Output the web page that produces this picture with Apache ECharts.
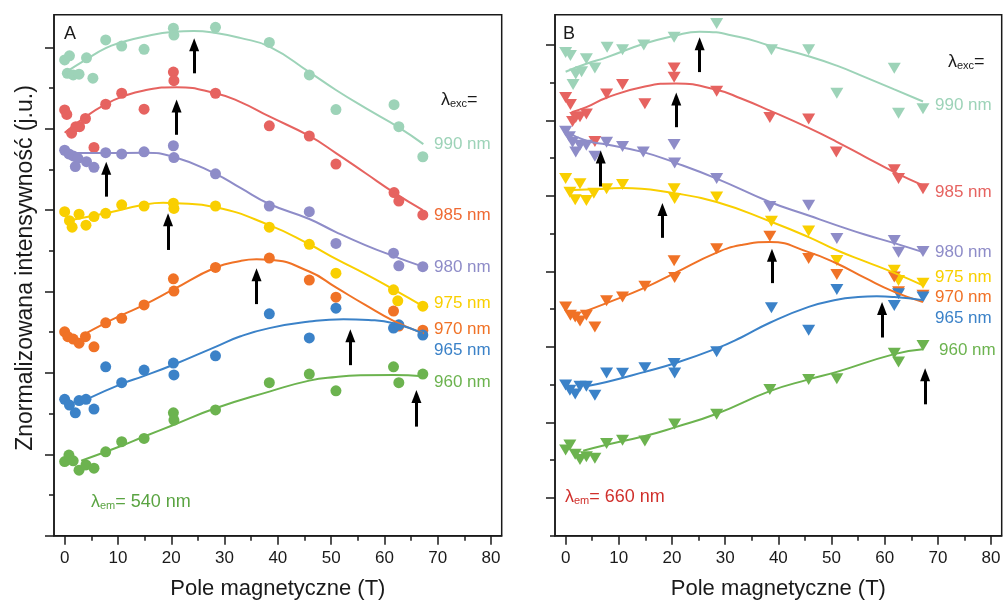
<!DOCTYPE html>
<html>
<head>
<meta charset="utf-8">
<script src="https://cdn.jsdelivr.net/npm/echarts@6/dist/echarts.min.js"></script>
<style>
html, body { margin: 0; padding: 0; background: #fff; }
#chart { width: 1003px; height: 604px; }
</style>
</head>
<body>
<div id="chart"></div>
<script>
// excitation wavelengths (top to bottom) and their colours
const waves = ['990', '985', '980', '975', '970', '965', '960'];
const colors = ['#9dd3b8', '#e66360', '#8e8cc8', '#f9cf00', '#f07226', '#3b82c8', '#6cb34f'];

// axis ticks
const xMajor = [0, 10, 20, 30, 40, 50, 60, 70, 80];
const xMinor = [5, 15, 25, 35, 45, 55, 65, 75];
const yMajorA = [0, 2, 4, 6, 8, 10, 12];
const yMinorA = [1, 3, 5, 7, 9, 11];
const yMajorB = [1, 3, 5, 7, 9, 11, 13];
const yMinorB = [0, 2, 4, 6, 8, 10, 12];

// panel A (λem = 540 nm): measured points [B (T), shifted intensity]
const ptsA990 = [[0,11.69],[0.9,11.79],[4.1,11.74],[0.5,11.36],[1.6,11.32],[2.7,11.34],[5.3,11.24],[7.7,12.18],[10.7,12.03],[14.9,11.95],[20.4,12.47],[20.5,12.30],[28.3,12.49],[38.4,12.12],[45.9,11.32],[50.9,10.47],[61.8,10.59],[62.7,10.05],[67.2,9.31]];
const ptsA985 = [[0,10.46],[0.4,10.35],[1.3,9.89],[2.1,10.05],[2.8,10.05],[3.9,10.25],[5.5,9.54],[7.7,10.6],[10.7,10.87],[14.9,10.48],[20.4,11.39],[20.5,11.18],[28.3,10.87],[38.4,10.07],[45.9,9.82],[50.9,9.13],[61.8,8.43],[62.7,8.22],[67.2,7.88]];
const ptsA980 = [[0,9.47],[0.8,9.38],[1.6,9.33],[2.5,9.27],[2.0,9.07],[4.1,9.19],[5.5,9.05],[7.7,9.41],[10.7,9.38],[14.9,9.43],[20.4,9.58],[20.5,9.29],[28.3,8.89],[38.4,8.10],[45.9,7.96],[50.9,7.18],[61.7,6.94],[62.7,6.63],[67.2,6.61]];
const ptsA975 = [[0,7.96],[0.9,7.74],[1.4,7.58],[2.7,7.90],[4.0,7.63],[5.5,7.84],[7.7,7.92],[10.7,8.13],[14.9,8.10],[20.4,8.17],[20.5,8.04],[28.3,8.10],[38.4,7.58],[45.9,7.16],[50.9,6.45],[61.7,6.04],[62.5,5.77],[67.2,5.64]];
const ptsA970 = [[0,5.01],[0.6,4.89],[1.6,4.83],[2.7,4.73],[3.9,4.89],[5.5,4.64],[7.7,5.23],[10.7,5.34],[14.9,5.67],[20.4,6.31],[20.5,6.01],[28.3,6.59],[38.4,6.82],[45.9,6.28],[50.9,5.86],[61.7,5.52],[62.7,5.15],[67.2,5.05]];
const ptsA965 = [[0,3.35],[0.9,3.21],[2.0,3.02],[2.7,3.32],[4.0,3.35],[5.5,3.11],[7.7,4.15],[10.7,3.76],[14.9,4.07],[20.4,4.24],[20.5,3.95],[28.3,4.42],[38.4,5.45],[45.9,4.86],[50.9,5.59],[61.7,5.10],[62.7,5.18],[67.2,4.93]];
const ptsA960 = [[0,1.82],[0.8,1.98],[1.6,1.84],[2.7,1.61],[4.0,1.74],[5.5,1.66],[7.7,2.06],[10.7,2.31],[14.9,2.39],[20.4,3.02],[20.5,2.84],[28.3,3.09],[38.4,3.76],[45.9,3.97],[50.9,3.56],[61.7,4.15],[62.7,3.76],[67.2,3.97]];

// panel A fitted curves
const fitA990 = [[0,11.37],[3.9,11.69],[7.7,11.98],[10.7,12.12],[14.8,12.26],[20.5,12.38],[24.2,12.40],[28.4,12.35],[32.9,12.23],[38.5,12.01],[45.9,11.39],[50.9,10.95],[56.4,10.51],[62.6,10.04],[67.3,9.62]];
const fitA985 = [[0,9.90],[3.9,10.29],[7.7,10.60],[10.7,10.78],[14.9,10.94],[21,11.02],[28.3,10.87],[32.9,10.66],[38.4,10.30],[45.9,9.82],[50.9,9.40],[56.4,8.91],[61.8,8.43],[67.2,8.00]];
const fitA980 = [[0,9.40],[7.7,9.40],[14.9,9.41],[20.4,9.31],[28.3,8.89],[32.9,8.55],[38.4,8.15],[45.9,7.78],[50.9,7.46],[56.4,7.14],[61.7,6.87],[67.2,6.61]];
const fitA975 = [[0.5,7.74],[7.7,7.92],[14.8,8.13],[18.5,8.18],[21,8.17],[28.3,8.07],[38.4,7.63],[45.9,7.16],[50.9,6.80],[56.4,6.43],[61.7,6.05],[67.2,5.64]];
const fitA970 = [[3.4,4.93],[7.7,5.23],[10.7,5.42],[14.9,5.67],[20.4,6.05],[28.3,6.59],[33,6.75],[36,6.79],[38.4,6.78],[45.9,6.49],[50.9,6.10],[56.4,5.67],[61.7,5.28],[67.4,4.97]];
const fitA965 = [[4.1,3.35],[10.7,3.73],[14.8,3.92],[20.4,4.20],[28.3,4.64],[33,4.90],[38.4,5.10],[45.9,5.26],[52.3,5.32],[57,5.30],[61.7,5.22],[67.2,4.97]];
const fitA960 = [[3.1,1.84],[10.7,2.21],[14.8,2.43],[20.4,2.72],[28.3,3.13],[38.4,3.54],[45.9,3.81],[50.9,3.90],[55.5,3.94],[61.7,3.95],[67.2,3.92]];

// panel B (λem = 660 nm): measured points
const ptsB990 = [[0,12.80],[0.9,12.72],[1.4,11.95],[1.9,12.23],[3.0,12.29],[3.9,12.63],[5.5,12.39],[7.8,12.94],[10.7,12.87],[14.7,13.0],[20.4,13.2],[28.4,13.57],[38.7,12.87],[45.7,12.87],[51.0,11.72],[61.8,12.38],[62.6,11.19],[67.2,11.31]];
const ptsB985 = [[0,11.61],[0.9,11.42],[1.3,10.97],[1.9,11.08],[2.7,11.10],[3.9,11.17],[5.5,10.44],[7.7,11.70],[10.7,11.95],[14.9,11.44],[20.4,12.39],[20.4,12.14],[28.4,11.77],[38.4,11.08],[45.7,11.04],[50.9,10.16],[61.8,9.69],[62.6,9.46],[67.2,9.19]];
const ptsB980 = [[0,10.71],[0.7,10.57],[1.3,10.42],[1.9,10.16],[2.7,10.34],[3.9,10.34],[5.5,10.05],[7.7,10.42],[10.7,10.31],[14.6,10.16],[20.4,10.36],[20.5,9.87],[28.4,9.46],[38.4,8.72],[45.7,8.75],[51,7.87],[61.8,7.82],[62.6,7.51],[67.2,7.53]];
const ptsB975 = [[0,9.46],[0.8,9.10],[1.8,8.90],[2.7,9.32],[3.9,8.88],[5.3,9.07],[7.7,9.19],[10.7,9.30],[20.4,9.19],[20.5,8.93],[28.4,8.97],[38.7,8.33],[45.7,8.07],[51,7.29],[61.8,7.03],[62.6,6.76],[67.2,6.69]];
const ptsB970 = [[0,6.06],[0.9,5.84],[1.8,5.79],[2.7,5.69],[3.9,5.84],[5.5,5.53],[7.7,6.22],[10.7,6.32],[14.9,6.61],[20.4,7.28],[20.5,6.84],[28.4,7.60],[38.4,7.93],[45.7,7.34],[51,6.92],[61.8,6.85],[62.6,6.46],[67.2,6.37]];
const ptsB965 = [[0,3.99],[0.8,3.85],[1.8,3.75],[2.7,3.96],[3.9,3.96],[5.5,3.72],[7.7,4.31],[10.7,4.30],[14.9,4.45],[20.4,4.56],[20.5,4.31],[28.4,4.87],[38.7,6.04],[45.7,5.44],[51,6.52],[61.8,6.10],[62.6,6.41],[67.2,6.32]];
const ptsB960 = [[0,2.27],[0.8,2.40],[1.8,2.16],[2.7,2.02],[3.9,2.09],[5.5,2.05],[7.7,2.44],[10.7,2.53],[14.9,2.51],[20.5,2.96],[28.4,3.22],[38.4,3.87],[45.7,4.14],[51,4.16],[61.8,4.83],[62.6,4.60],[67.2,5.04]];

// panel B fitted curves
const fitB990 = [[0,12.29],[3.9,12.50],[7.7,12.67],[14.7,13.03],[20.4,13.24],[25.2,13.35],[32.7,13.21],[38.4,12.98],[45.7,12.70],[51,12.45],[56.4,12.14],[61.8,11.82],[67.2,11.50]];
const fitB985 = [[1.1,11.22],[3.9,11.35],[7.7,11.60],[14.9,11.90],[20.8,11.98],[28.4,11.81],[33,11.58],[38.4,11.26],[45.7,10.80],[50.9,10.44],[56.4,10.03],[61.8,9.63],[67.2,9.28]];
const fitB980 = [[0,10.72],[3.9,10.46],[7.7,10.36],[14.6,10.16],[20.4,9.89],[28.4,9.46],[38.4,8.84],[45.7,8.48],[51,8.22],[56.4,7.97],[61.8,7.75],[67.2,7.51]];
const fitB975 = [[0.2,9.15],[7.7,9.19],[10.8,9.21],[20.4,9.07],[28.4,8.84],[38.4,8.33],[45.7,7.91],[51,7.56],[56.4,7.26],[61.8,6.96],[67.2,6.63]];
const fitB970 = [[3,5.91],[7.7,6.16],[14.9,6.57],[20.4,6.95],[28.4,7.50],[33,7.70],[38.4,7.78],[45.7,7.51],[51,7.21],[56.4,6.82],[61.8,6.46],[67.2,6.19]];
const fitB965 = [[3.9,3.96],[7.7,4.07],[14.9,4.34],[20.4,4.56],[28.4,4.96],[33,5.25],[38.4,5.64],[45.7,6.06],[51,6.25],[55,6.32],[58.5,6.34],[61.8,6.32],[67.2,6.24]];
const fitB960 = [[3.3,2.25],[7.7,2.41],[14.9,2.64],[20.5,2.87],[28.4,3.23],[38.4,3.83],[45.7,4.14],[51,4.34],[61.8,4.81],[67.2,4.94]];

// arrows marking the maxima: [B, tail, head]
const arrowsA = [[24.3,11.36,12.06],[21.0,9.85,10.56],[7.8,8.33,9.03],[19.4,7.02,7.76],[36.0,5.69,6.41],[53.6,4.19,4.91],[66.0,2.68,3.42]];
const arrowsB = [[25.2,12.28,13.03],[20.8,10.82,11.57],[6.6,9.25,10.03],[18.2,7.89,8.64],[38.8,6.69,7.43],[59.5,5.25,6.02],[67.6,3.48,4.26]];

const ptsA = [ptsA990, ptsA985, ptsA980, ptsA975, ptsA970, ptsA965, ptsA960];
const fitA = [fitA990, fitA985, fitA980, fitA975, fitA970, fitA965, fitA960];
const ptsB = [ptsB990, ptsB985, ptsB980, ptsB975, ptsB970, ptsB965, ptsB960];
const fitB = [fitB990, fitB985, fitB980, fitB975, fitB970, fitB965, fitB960];

const FONT = '"Liberation Sans", Arial, Helvetica, sans-serif';
const INK = '#1a1a1a';

let chart = echarts.init(document.getElementById('chart'));

function xAxes(grid) {
    return [{
        type: 'value', gridIndex: grid, min: -2, max: 82, position: 'bottom',
        axisLine: { show: true, onZero: false, lineStyle: { color: INK, width: 1.5 } },
        axisTick: { show: true, length: 9, customValues: xMajor, lineStyle: { color: INK, width: 1.5 } },
        axisLabel: { customValues: xMajor, color: INK, fontSize: 17, fontFamily: FONT, margin: 14 },
        splitLine: { show: false },
        name: 'Pole magnetyczne (T)', nameLocation: 'middle', nameGap: 42,
        nameTextStyle: { color: INK, fontSize: 22, fontFamily: FONT }
    }, {
        type: 'value', gridIndex: grid, min: -2, max: 82, position: 'bottom',
        axisLine: { show: false, onZero: false },
        axisTick: { show: true, length: 5, customValues: xMinor, lineStyle: { color: INK, width: 1.5 } },
        axisLabel: { show: false },
        splitLine: { show: false }
    }];
}

function yAxes(grid, max, major, minor) {
    return [{
        type: 'value', gridIndex: grid, min: 0, max: max, position: 'left',
        axisLine: { show: true, onZero: false, lineStyle: { color: INK, width: 1.5 } },
        axisTick: { show: true, length: 9, customValues: major, lineStyle: { color: INK, width: 1.5 } },
        axisLabel: { show: false },
        splitLine: { show: false }
    }, {
        type: 'value', gridIndex: grid, min: 0, max: max, position: 'left',
        axisLine: { show: false, onZero: false },
        axisTick: { show: true, length: 5, customValues: minor, lineStyle: { color: INK, width: 1.5 } },
        axisLabel: { show: false },
        splitLine: { show: false }
    }];
}

function panelSeries(axis, pts, fits, arrows, tri) {
    let out = [];
    pts.forEach((p, i) => {
        out.push({
            type: 'scatter', xAxisIndex: axis, yAxisIndex: axis, data: p,
            symbol: tri ? 'triangle' : 'circle', symbolRotate: tri ? 180 : 0,
            symbolSize: tri ? [13, 11] : 11,
            itemStyle: { color: colors[i], opacity: 1 }, z: 2, silent: true
        });
        out.push({
            type: 'line', xAxisIndex: axis, yAxisIndex: axis, data: fits[i],
            smooth: 0.5, showSymbol: false, symbol: 'none',
            lineStyle: { color: colors[i], width: 2 }, z: 3, silent: true
        });
    });
    out.push({
        type: 'line', xAxisIndex: axis, yAxisIndex: axis, data: [], z: 4,
        markLine: {
            silent: true, animation: false,
            symbol: ['none', 'triangle'], symbolSize: [10, 13],
            lineStyle: { color: '#000', width: 3, type: 'solid' },
            itemStyle: { color: '#000' },
            label: { show: false },
            emphasis: { disabled: true },
            data: arrows.map(a => [{ coord: [a[0], a[1]] }, { coord: [a[0], a[2]] }])
        }
    });
    return out;
}

function label(x, y, text, color) {
    return {
        type: 'text', x: x, y: y, silent: true,
        style: { text: text, fill: color, fontSize: 17, fontFamily: FONT, verticalAlign: 'middle' }
    };
}

function lambda(x, y, sub, rest, color) {
    return {
        type: 'text', x: x, y: y, silent: true,
        style: {
            text: '{l|λ}{s|' + sub + '}{l|' + rest + '}',
            fill: color, fontFamily: FONT, verticalAlign: 'middle',
            rich: {
                l: { fontSize: 18, lineHeight: 18, verticalAlign: 'top', fill: color, fontFamily: FONT },
                s: { fontSize: 11, lineHeight: 13, verticalAlign: 'bottom', fill: color, fontFamily: FONT }
            }
        }
    };
}

const labelYA = [144, 215, 267, 303, 329, 350, 382];
const labelYB = [105, 192, 252, 277, 297, 318, 350];
const labelColorsA = ['#9dd3b8', '#ef6a33', '#8e8cc8', '#f9cf00', '#f07226', '#3b82c8', '#6cb34f'];

let graphics = [];
waves.forEach((w, i) => {
    graphics.push(label(434, labelYA[i], w + ' nm', labelColorsA[i]));
    graphics.push(label(i === 6 ? 939 : 935, labelYB[i], w + ' nm', colors[i]));
});
graphics.push({ type: 'text', x: 64, y: 34, silent: true, style: { text: 'A', fontSize: 18, fontFamily: FONT, fill: INK, verticalAlign: 'middle' } });
graphics.push({ type: 'text', x: 563, y: 34, silent: true, style: { text: 'B', fontSize: 18, fontFamily: FONT, fill: INK, verticalAlign: 'middle' } });
graphics.push({
    type: 'text', x: 26, y: 268, rotation: Math.PI / 2, silent: true,
    style: { text: 'Znormalizowana intensywność (j.u.)', fontSize: 23, fontFamily: FONT, fill: INK, align: 'center', verticalAlign: 'middle' }
});
graphics.push(lambda(441, 100, 'exc', '=', INK));
graphics.push(lambda(948, 62, 'exc', '=', INK));
graphics.push(lambda(91, 502, 'em', '= 540 nm', '#5aa442'));
graphics.push(lambda(565, 497, 'em', '= 660 nm', '#d0302c'));

chart.setOption({
    animation: false,
    backgroundColor: '#fff',
    grid: [
        { left: 54, top: 14.7, width: 447.7, height: 521, show: true, borderColor: INK, borderWidth: 1.5, outerBoundsMode: 'none' },
        { left: 555, top: 14.7, width: 446.7, height: 521, show: true, borderColor: INK, borderWidth: 1.5, outerBoundsMode: 'none' }
    ],
    xAxis: xAxes(0).concat(xAxes(1)),
    yAxis: yAxes(0, 12.8, yMajorA, yMinorA).concat(yAxes(1, 13.8, yMajorB, yMinorB)),
    series: panelSeries(0, ptsA, fitA, arrowsA, false).concat(panelSeries(2, ptsB, fitB, arrowsB, true)),
    graphic: graphics
});
</script>
</body>
</html>
